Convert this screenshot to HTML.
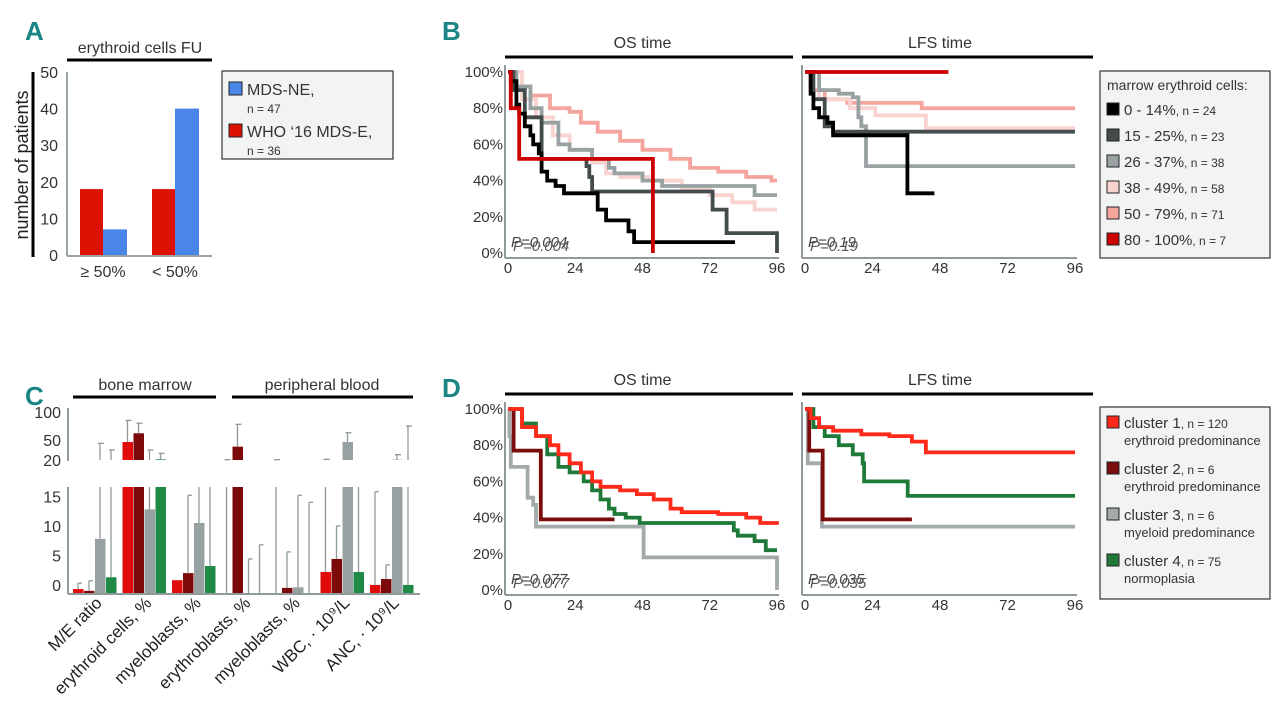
<!DOCTYPE html>
<html><head><meta charset="utf-8"><style>
body{margin:0;background:#fff;}
svg{display:block;font-family:"Liberation Sans",sans-serif;}
.lt{font-weight:bold;fill:#1a8585;font-size:26px;}
</style></head><body>
<svg id="fig" width="1280" height="715" viewBox="0 0 1280 715">
<g id="pa"></g>
<g id="pb"></g>
<g id="pc"></g>
<g id="pd"></g>
</svg>
<script>
// ---- Panel A data
const aCategories = ["≥ 50%", "< 50%"];
const aWho = [18, 18];
const aNe = [7, 40];
const aTicks = [0, 10, 20, 30, 40, 50];

// ---- Panel B data (OS)
const bOsBlackT = [0,1,3,4,6,8,9,11,12,14,17,20,32,35,43,45,81];
const bOsBlackS = [100,95,82,77,70,65,60,55,45,40,37,33,24,18,12,6,6];
const bOsDkT = [0,2,6,12,28,29,30,73,78,96,96];
const bOsDkS = [100,90,75,52,48,42,34,24,11,11,0];
const bOsGrT = [0,3,8,12,18,22,30,36,38,48,55,88,96];
const bOsGrS = [100,92,80,72,60,57,52,47,44,40,37,32,32];
const bOsLpT = [0,5,10,16,22,30,35,40,50,62,72,80,88,96];
const bOsLpS = [100,85,75,65,57,50,44,42,40,35,32,28,24,24];
const bOsSaT = [0,3,8,15,22,26,32,40,48,58,65,75,85,94,96];
const bOsSaS = [100,92,87,80,78,72,67,62,57,52,47,45,42,40,40];
const bOsRdT = [0,1,4,51.7,51.7];
const bOsRdS = [100,80,52,52,0];
// ---- Panel B data (LFS)
const bLfBlackT = [0,2,3,5,8,10,36.4,46];
const bLfBlackS = [100,88,80,75,72,65,33,33];
const bLfDkT = [0,3,7,10,96];
const bLfDkS = [100,85,70,67,67];
const bLfGrT = [0,5,12,17,19,20,21.7,96];
const bLfGrS = [100,90,88,86,75,70,48,48];
const bLfLpT = [0,5,16,25,43,96];
const bLfLpS = [100,85,80,76,69,69];
const bLfSaT = [0,2,7,15,41.5,96];
const bLfSaS = [100,90,85,83,80,80];
const bLfRdT = [0,51];
const bLfRdS = [100,100];

// ---- Panel D data (OS)
const dOsC1T = [0,5,10,15,18,22,26,30,33,40,46,52,58,62,75,85,90,96];
const dOsC1S = [100,90,85,80,75,70,65,60,57,55,53,50,45,43,42,40,37,36];
const dOsC2T = [0,2,11.7,38];
const dOsC2S = [100,77,39,39];
const dOsC3T = [0,0.5,1,7,9,10,48.4,96,96];
const dOsC3S = [100,85,68,51,47,35,18,18,0];
const dOsC4T = [0,5,10,14,18,22,27,30,33,36,38,42,47,80.6,82,88,92,95,96];
const dOsC4S = [100,92,85,75,68,65,60,55,50,45,42,40,37,33,30,27,22,22,22];
// ---- Panel D data (LFS)
const dLfC1T = [0,2,5,10,20,30,38,43,96];
const dLfC1S = [100,95,90,88,86,85,82,76,76];
const dLfC2T = [0,1.5,6.3,38];
const dLfC2S = [100,77,39,39];
const dLfC3T = [0,1,6,96];
const dLfC3S = [100,70,35,35];
const dLfC4T = [0,3,7,12,17,20.5,21,36.5,96];
const dLfC4S = [100,90,85,80,75,70,60,52,52];

const kmXTicks = [0,24,48,72,96];
const kmYTicks = [0,20,40,60,80,100];

// ---- Panel C data
const cCategories = ["M/E ratio","erythroid cells, %","myeloblasts, %","erythroblasts, %","myeloblasts, %","WBC, · 10⁹/L","ANC, · 10⁹/L"];
const cC1 = [0.5, 47, 2, 0, 0, 3.4, 1.2];
const cC2 = [0.2, 62, 3.2, 40, 0.7, 5.6, 2.2];
const cC3 = [9, 14, 11.7, 0, 0.8, 47, 20.5];
const cC4 = [2.5, 21, 4.4, 0, 0, 3.4, 1.2];
const cE1 = [1.5, 85, 0, 20, 19, 21, 17];
const cE2 = [1.9, 80, 16.4, 78, 6.8, 11.2, 4.6];
const cE3 = [45, 35, 18, 5.6, 16.4, 63, 28];
const cE4 = [35, 30, 18, 8, 15.2, 18, 75];
const cLowTicks = [0,5,10,15];
const cUpTicks = [20,50,100];

const NS="http://www.w3.org/2000/svg";
function mk(parent,tag,attrs,txt){const e=document.createElementNS(NS,tag);for(const k in attrs)e.setAttribute(k,attrs[k]);if(txt!==undefined)e.textContent=txt;parent.appendChild(e);return e;}
function txt(p,x,y,s,size,anchor,name,extra){const e=mk(p,'text',Object.assign({x:x,y:y,'font-size':size,'text-anchor':anchor||'start',fill:'#333'},extra||{}),s);


return e;}
function line(p,x1,y1,x2,y2,c,w,name){const e=mk(p,'line',{x1:x1,y1:y1,x2:x2,y2:y2,stroke:c,'stroke-width':w});


return e;}

// ===== Panel A
(function(){
const g=document.getElementById('pa');
txt(g,25,40,'A',26,'start','panel-a-letter',{class:'lt'});
txt(g,140,53,'erythroid cells FU',16,'middle','panel-a-title');
line(g,67,60,212,60,'#000',3,'panel-a-title-bar');
const y=v=>255-v*3.66;
line(g,67,72,67,256,'#9aa4a4',2,'y-axis');
line(g,67,256,212,256,'#9aa4a4',2,'x-axis');
aTicks.forEach(t=>txt(g,58,y(t)+6,String(t),16,'end','y-tick-label'));
const yt=mk(g,'text',{x:0,y:0,'font-size':18,'text-anchor':'middle',fill:'#222',transform:'translate(28,165) rotate(-90)'},'number of patients');


line(g,33,72,33,257,'#000',3,'y-title-bar');
aCategories.forEach((c,i)=>{
 const x0=80+i*72;
 const r1=mk(g,'rect',{x:x0,y:y(aWho[i]),width:23,height:255-y(aWho[i]),fill:'#dd1100'});
 
 
 const r2=mk(g,'rect',{x:x0+23,y:y(aNe[i]),width:24,height:255-y(aNe[i]),fill:'#4a86e8'});
 
 
 txt(g,x0+23,277,c,16,'middle','x-tick-label');
});
const lb=mk(g,'rect',{x:222,y:71,width:171,height:88,fill:'#f2f4f4',stroke:'#333','stroke-width':1.2});


[['#4a86e8','MDS-NE,','n = 47',82],['#dd1100','WHO ‘16 MDS-E,','n = 36',124]].forEach(e=>{
 const s=mk(g,'rect',{x:229,y:e[3],width:13,height:13,fill:e[0],stroke:'#222','stroke-width':1});
 
 
 txt(g,247,e[3]+13,e[1],16,'start','legend-entry');
 txt(g,247,e[3]+31,e[2],12,'start','legend-n');
});
})();

// ===== KM helper
function km(g,x0,x1,y0,y100,T,S,color,name){
 const x=t=>x0+(x1-x0)*t/96, y=p=>y0+(y100-y0)*p/100;
 let d='M'+x(T[0]).toFixed(1)+' '+y(S[0]).toFixed(1);
 for(let i=1;i<T.length;i++){d+=' H'+x(T[i]).toFixed(1)+' V'+y(S[i]).toFixed(1);}
 const p=mk(g,'path',{d:d,fill:'none',stroke:color,'stroke-width':3.8,'stroke-linejoin':'miter'});
 
 
}
function kmFrame(g,title,xl,xr,y0,y100,withY,pval,prefix){
 const tcx=(xl+xr)/2;
 txt(g,tcx,y100-24,title,16,'middle',prefix+'-title');
 line(g,xl-3,y100-15,xr+(withY?16:18),y100-15,'#000',3,prefix+'-title-bar');
 line(g,xl-3,y100-7,xl-3,y0+5,'#8f9999',2,prefix+'-y-axis');
 line(g,xl-3,y0+5,xr+2,y0+5,'#8f9999',2,prefix+'-x-axis');
 kmXTicks.forEach(t=>txt(g,xl+(xr-xl)*t/96,y0+20,String(t),15,'middle',prefix+'-x-tick-label'));
 if(withY) kmYTicks.forEach(p=>txt(g,xl-5,y0+(y100-y0)*p/100+5,p+'%',15,'end',prefix+'-y-tick-label'));
 txt(g,xl+3,y0-6,'P=0.'+pval[0],15,'start',prefix+'-p-value',{'font-style':'italic',fill:'#444'});
 txt(g,xl+5,y0-2,'P=0.'+pval[1],15,'start',prefix+'-p-value-shadow',{'font-style':'italic',fill:'#555'});
}
function legend(g,x,y,w,h){const r=mk(g,'rect',{x:x,y:y,width:w,height:h,fill:'#f2f4f4',stroke:'#333','stroke-width':1.2});
 
 }
function sw(g,x,y,c){const s=mk(g,'rect',{x:x,y:y,width:12,height:12,fill:c,stroke:'#222','stroke-width':1});
 
 }

// ===== Panel B
(function(){
const g=document.getElementById('pb');
txt(g,442,40,'B',26,'start','panel-b-letter',{class:'lt'});
const y0=253,y100=72;
kmFrame(g,'OS time',508,777,y0,y100,true,['004','004'],'b-os');
kmFrame(g,'LFS time',805,1075,y0,y100,false,['19','19'],'b-lfs');
const C=['#000','#454c4c','#98a2a2','#f8d3d0','#f4a59d','#cc0000'];
[[bOsSaT,bOsSaS,4],[bOsLpT,bOsLpS,3],[bOsGrT,bOsGrS,2],[bOsDkT,bOsDkS,1],[bOsBlackT,bOsBlackS,0],[bOsRdT,bOsRdS,5]].forEach(c=>km(g,508,777,y0,y100,c[0],c[1],C[c[2]],'b-os-curve'));
[[bLfSaT,bLfSaS,4],[bLfLpT,bLfLpS,3],[bLfGrT,bLfGrS,2],[bLfDkT,bLfDkS,1],[bLfBlackT,bLfBlackS,0],[bLfRdT,bLfRdS,5]].forEach(c=>km(g,805,1075,y0,y100,c[0],c[1],C[c[2]],'b-lfs-curve'));
legend(g,1100,71,170,187);
txt(g,1107,90,'marrow erythroid cells:',14,'start','legend-title');
const L=[['0 - 14%',', n = 24'],['15 - 25%',', n = 23'],['26 - 37%',', n = 38'],['38 - 49%',', n = 58'],['50 - 79%',', n = 71'],['80 - 100%',', n = 7']];
L.forEach((l,i)=>{const yy=103+i*26;sw(g,1107,yy,C[i]);
 const t=txt(g,1124,yy+12,l[0],15,'start','legend-entry');
 mk(t,'tspan',{'font-size':12},l[1]);});
})();

// ===== Panel D
(function(){
const g=document.getElementById('pd');
txt(g,442,397,'D',26,'start','panel-d-letter',{class:'lt'});
const y0=590,y100=409;
kmFrame(g,'OS time',508,777,y0,y100,true,['077','077'],'d-os');
kmFrame(g,'LFS time',805,1075,y0,y100,false,['035','035'],'d-lfs');
const C=['#ff2a1a','#7a0c0c','#a2aaaa','#1f7a3a'];
[[dOsC3T,dOsC3S,2],[dOsC2T,dOsC2S,1],[dOsC4T,dOsC4S,3],[dOsC1T,dOsC1S,0]].forEach(c=>km(g,508,777,y0,y100,c[0],c[1],C[c[2]],'d-os-curve'));
[[dLfC3T,dLfC3S,2],[dLfC2T,dLfC2S,1],[dLfC4T,dLfC4S,3],[dLfC1T,dLfC1S,0]].forEach(c=>km(g,805,1075,y0,y100,c[0],c[1],C[c[2]],'d-lfs-curve'));
legend(g,1100,407,170,192);
const L=[['cluster 1',', n = 120','erythroid predominance'],['cluster 2',', n = 6','erythroid predominance'],['cluster 3',', n = 6','myeloid predominance'],['cluster 4',', n = 75','normoplasia']];
L.forEach((l,i)=>{const yy=416+i*46;sw(g,1107,yy,C[i]);
 const t=txt(g,1124,yy+12,l[0],15,'start','legend-entry');
 mk(t,'tspan',{'font-size':12},l[1]);
 txt(g,1124,yy+29,l[2],13,'start','legend-subtitle');});
})();

// ===== Panel C
(function(){
const g=document.getElementById('pc');
txt(g,25,405,'C',26,'start','panel-c-letter',{class:'lt'});
txt(g,145,390,'bone marrow',16,'middle','group-title-bone-marrow');
line(g,73,397,216,397,'#000',3,'group-bar-bone-marrow');
txt(g,322,390,'peripheral blood',16,'middle','group-title-peripheral-blood');
line(g,232,397,413,397,'#000',3,'group-bar-peripheral-blood');
const base=593, yl=v=>592-5.9*v, top=487, vmax=(592-487)/5.9;
const yu=v=>v<=50?460-(v-20)*20/30:440-(v-50)*28/50;
line(g,68,408,68,461,'#8f9999',2,'upper-y-axis');
line(g,68,487,68,594,'#8f9999',2,'lower-y-axis');
line(g,68,594,420,594,'#8f9999',2,'x-axis');
cLowTicks.forEach(t=>txt(g,61,yl(t)-1,String(t),16,'end','y-tick-label'));
cUpTicks.forEach(t=>txt(g,61,yu(t)+6,String(t),16,'end','y-tick-label'));
const series=[[cC1,cE1,'#e00c0c'],[cC2,cE2,'#7d0a0a'],[cC3,cE3,'#97a1a1'],[cC4,cE4,'#1e8a45']];
cCategories.forEach((cat,i)=>{
 const gx=73+49.5*i;
 series.forEach((s,j)=>{
  const v=s[0][i], e=s[1][i], bx=gx+j*11, cx=bx+5;
  if(v>0){
   const ly=Math.max(top,yl(v));
   const r=mk(g,'rect',{x:bx,y:ly,width:10.5,height:base-ly,fill:s[2]});
   
   
   if(v>=20){const uy=yu(v);const r2=mk(g,'rect',{x:bx,y:uy,width:10.5,height:460-uy,fill:s[2]});
    
    }
  }
  if(e>v){
   if(v<vmax){const ey=e>vmax?top:yl(e);line(g,cx,v>0?yl(v):base,cx,ey,'#8f9999',1.3,'error-bar');
     if(e<=vmax)line(g,cx,ey,cx+4,ey,'#8f9999',1.3,'error-cap');}
   if(e>=19){const st=v>=20?yu(v):460;const ey=yu(Math.max(e,20.5));line(g,cx,st,cx,ey,'#8f9999',1.3,'error-bar-upper');
     line(g,cx-2,ey,cx+4,ey,'#8f9999',1.3,'error-cap');}
  }
 });
 const t=mk(g,'text',{x:0,y:0,'font-size':17,'text-anchor':'end',fill:'#222',transform:'translate('+(gx+30)+',604) rotate(-45)'},cat);
 
 
});
})();
</script>
</body></html>
